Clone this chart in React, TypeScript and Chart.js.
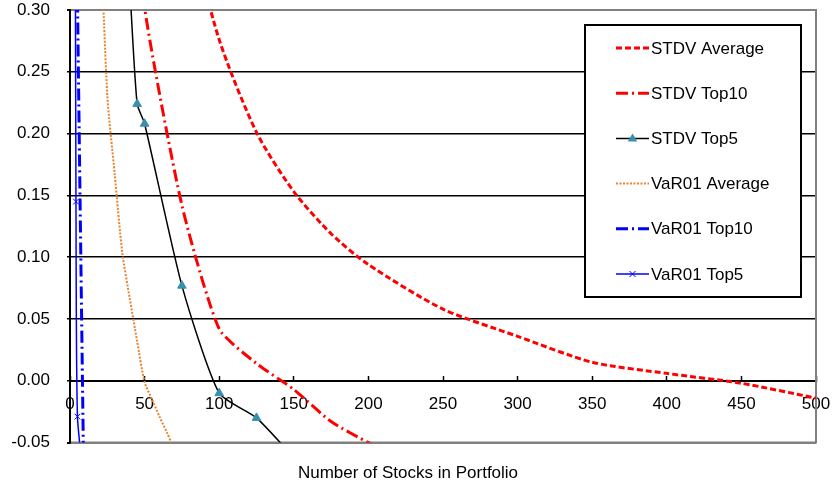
import React, { useEffect, useRef } from 'react';
import { Chart, registerables } from 'chart.js';

Chart.register(...registerables);

// ---- data ----
const SERIES_LABELS = ['STDV Average', 'STDV Top10', 'STDV Top5', 'VaR01 Average', 'VaR01 Top10', 'VaR01 Top5'];

const STDV_AVG_X = [75, 100, 125, 150, 175, 200, 250, 300, 350, 400, 450, 500];
const STDV_AVG_Y = [0.39, 0.276, 0.201, 0.153, 0.119, 0.094, 0.058, 0.036, 0.015, 0.006, -0.002, -0.014];

const STDV_TOP10_X = [45, 50, 75, 100, 125, 150, 175, 200, 250];
const STDV_TOP10_Y = [0.4, 0.302, 0.142, 0.042, 0.014, -0.007, -0.033, -0.05, -0.08];

const STDV_TOP5_X = [40, 45, 50, 75, 100, 125, 150];
const STDV_TOP5_Y = [0.32, 0.224, 0.208, 0.077, -0.01, -0.03, -0.062];

const VAR_AVG_X = [20, 25, 30, 35, 40, 45, 50, 55, 60, 65, 70];
const VAR_AVG_Y = [0.38, 0.231, 0.167, 0.104, 0.067, 0.032, -0.001, -0.015, -0.029, -0.042, -0.056];

const VAR_TOP10_X = [4, 5, 10];
const VAR_TOP10_Y = [0.45, 0.31, -0.15];

const VAR_TOP5_X = [3, 4, 5, 10];
const VAR_TOP5_Y = [0.62, 0.145, -0.029, -0.09];

const Y_MIN = -0.05;
const Y_MAX = 0.3;
const Y_STEP = 0.05;
const X_MIN = 0;
const X_MAX = 500;
const X_STEP = 50;
const X_TITLE = 'Number of Stocks in Portfolio';

const FONT = '"Liberation Sans", Arial, sans-serif';
const FONT_SIZE = 17;

const pts = (xs: number[], ys: number[]) => xs.map((x, i) => ({ x, y: ys[i] }));

function drawMarker(ctx: CanvasRenderingContext2D, style: string, x: number, y: number, r: number, color: string) {
  ctx.save();
  ctx.setLineDash([]);
  if (style === 'triangle') {
    ctx.fillStyle = color;
    ctx.beginPath();
    ctx.moveTo(x, y - r);
    ctx.lineTo(x - r * 0.95, y + r * 0.6);
    ctx.lineTo(x + r * 0.95, y + r * 0.6);
    ctx.closePath();
    ctx.fill();
  } else if (style === 'crossRot') {
    ctx.strokeStyle = color;
    ctx.lineWidth = 1;
    const d = r * 0.75;
    ctx.beginPath();
    ctx.moveTo(x - d, y - d);
    ctx.lineTo(x + d, y + d);
    ctx.moveTo(x + d, y - d);
    ctx.lineTo(x - d, y + d);
    ctx.stroke();
  }
  ctx.restore();
}

const frameBorder = {
  id: 'frameBorder',
  beforeDatasetsDraw(chart: any) {
    const { ctx, chartArea } = chart;
    ctx.save();
    ctx.strokeStyle = '#808080';
    ctx.lineWidth = 2;
    ctx.beginPath();
    ctx.moveTo(chartArea.left, chartArea.top);
    ctx.lineTo(chartArea.right, chartArea.top);
    ctx.lineTo(chartArea.right, chartArea.bottom);
    ctx.lineTo(chartArea.left, chartArea.bottom);
    ctx.stroke();
    ctx.strokeStyle = '#000000';
    ctx.beginPath();
    ctx.moveTo(chartArea.left, chartArea.top - 1);
    ctx.lineTo(chartArea.left, chartArea.bottom + 1);
    ctx.stroke();
    ctx.restore();
  },
};

const boxLegend = {
  id: 'boxLegend',
  afterDatasetsDraw(chart: any) {
    const { ctx, chartArea } = chart;
    const w = 216;
    const h = 272;
    const left = chartArea.right - 15 - w;
    const top = chartArea.top + 15;
    ctx.save();
    ctx.fillStyle = '#ffffff';
    ctx.fillRect(left, top, w, h);
    ctx.lineWidth = 2;
    ctx.strokeStyle = '#000000';
    ctx.strokeRect(left, top, w, h);
    chart.data.datasets.forEach((ds: any, i: number) => {
      const y = top + 23 + i * 45.2;
      const x0 = left + 31;
      const x1 = left + 64;
      ctx.beginPath();
      ctx.setLineDash(ds.borderDash || []);
      ctx.lineWidth = ds.borderWidth;
      ctx.strokeStyle = ds.borderColor;
      ctx.moveTo(x0, y);
      ctx.lineTo(x1, y);
      ctx.stroke();
      ctx.setLineDash([]);
      if (ds.pointRadius > 0) {
        drawMarker(ctx, ds.pointStyle, (x0 + x1) / 2, y, ds.pointRadius, ds.pointBorderColor);
      }
      ctx.fillStyle = '#000000';
      ctx.font = `${FONT_SIZE}px ${FONT}`;
      ctx.textBaseline = 'middle';
      ctx.textAlign = 'left';
      ctx.fillText(ds.label, x1 + 2, y + 1);
    });
    ctx.restore();
  },
};

const near = (a: number, b: number) => Math.abs(a - b) < 1e-6;

export default function App() {
  const canvasRef = useRef<HTMLCanvasElement | null>(null);

  useEffect(() => {
    if (!canvasRef.current) return;
    Chart.defaults.font.family = FONT;
    Chart.defaults.font.size = FONT_SIZE;
    Chart.defaults.color = '#000000';

    const chart = new Chart(canvasRef.current, {
      type: 'scatter',
      data: {
        datasets: [
          {
            label: SERIES_LABELS[0],
            data: pts(STDV_AVG_X, STDV_AVG_Y),
            showLine: true,
            borderColor: '#FF0000',
            borderWidth: 3,
            borderDash: [6, 3],
            pointRadius: 0,
            tension: 0.25,
          },
          {
            label: SERIES_LABELS[1],
            data: pts(STDV_TOP10_X, STDV_TOP10_Y),
            showLine: true,
            borderColor: '#FF0000',
            borderWidth: 3,
            borderDash: [12, 4, 2, 4],
            pointRadius: 0,
            tension: 0.2,
          },
          {
            label: SERIES_LABELS[2],
            data: pts(STDV_TOP5_X, STDV_TOP5_Y),
            showLine: true,
            borderColor: '#000000',
            borderWidth: 1.5,
            pointStyle: 'triangle',
            pointRadius: 5,
            pointBackgroundColor: '#3A8FAE',
            pointBorderColor: '#3A8FAE',
            pointBorderWidth: 1,
            tension: 0.2,
          },
          {
            label: SERIES_LABELS[3],
            data: pts(VAR_AVG_X, VAR_AVG_Y),
            showLine: true,
            borderColor: '#E8832E',
            borderWidth: 2,
            borderDash: [2, 1.5],
            pointRadius: 0,
            tension: 0.25,
          },
          {
            label: SERIES_LABELS[4],
            data: pts(VAR_TOP10_X, VAR_TOP10_Y),
            showLine: true,
            borderColor: '#0000FF',
            borderWidth: 3,
            borderDash: [12, 4, 2, 4],
            pointRadius: 0,
            tension: 0.2,
          },
          {
            label: SERIES_LABELS[5],
            data: pts(VAR_TOP5_X, VAR_TOP5_Y),
            showLine: true,
            borderColor: '#0000FF',
            borderWidth: 1.5,
            pointStyle: 'crossRot',
            pointRadius: 4,
            pointBorderColor: '#0000FF',
            pointBackgroundColor: '#0000FF',
            pointBorderWidth: 1,
            tension: 0.2,
          },
        ],
      },
      options: {
        animation: false,
        responsive: true,
        maintainAspectRatio: false,
        layout: { padding: { left: 0, top: 10, right: 17, bottom: 0 } },
        scales: {
          x: {
            type: 'linear',
            min: X_MIN,
            max: X_MAX,
            position: { y: 0 },
            afterFit: (scale: any) => {
              scale.paddingLeft = 0;
              scale.paddingRight = 0;
            },
            grid: {
              drawOnChartArea: false,
              drawTicks: true,
              tickLength: -6,
              tickColor: '#000000',
              tickWidth: 1.5,
            },
            border: { color: '#000000', width: 2 },
            ticks: {
              stepSize: X_STEP,
              padding: 19,
              maxRotation: 0,
              autoSkip: false,
              color: '#000000',
              font: { size: FONT_SIZE },
            },
          },
          y: {
            type: 'linear',
            min: Y_MIN,
            max: Y_MAX,
            afterFit: (scale: any) => {
              scale.width = 70;
              scale.paddingTop = 0;
              scale.paddingBottom = 0;
            },
            grid: {
              color: (c: any) =>
                c.tick && (near(c.tick.value, Y_MAX) || near(c.tick.value, Y_MIN)) ? '#808080' : '#000000',
              lineWidth: (c: any) =>
                c.tick && (near(c.tick.value, Y_MAX) || near(c.tick.value, Y_MIN)) ? 2 : 1.5,
              tickLength: 3,
              tickColor: '#000000',
            },
            border: { color: '#000000', width: 2 },
            ticks: {
              stepSize: Y_STEP,
              padding: 17,
              color: '#000000',
              font: { size: FONT_SIZE },
              callback: (v: any) => {
                const n = Number(v);
                return (Math.abs(n) < 1e-9 ? 0 : n).toFixed(2);
              },
            },
          },
        },
        plugins: {
          legend: { display: false },
          tooltip: { enabled: false },
          title: {
            display: true,
            text: X_TITLE,
            position: 'bottom',
            color: '#000000',
            font: { size: FONT_SIZE, weight: 'normal' },
            padding: { top: 21, bottom: 3 },
          },
        },
      },
      plugins: [frameBorder, boxLegend],
    } as any);

    return () => chart.destroy();
  }, []);

  return (
    <div style={{ position: 'fixed', left: 0, top: 0, width: 833, height: 487, background: '#ffffff' }}>
      <canvas ref={canvasRef} />
    </div>
  );
}
